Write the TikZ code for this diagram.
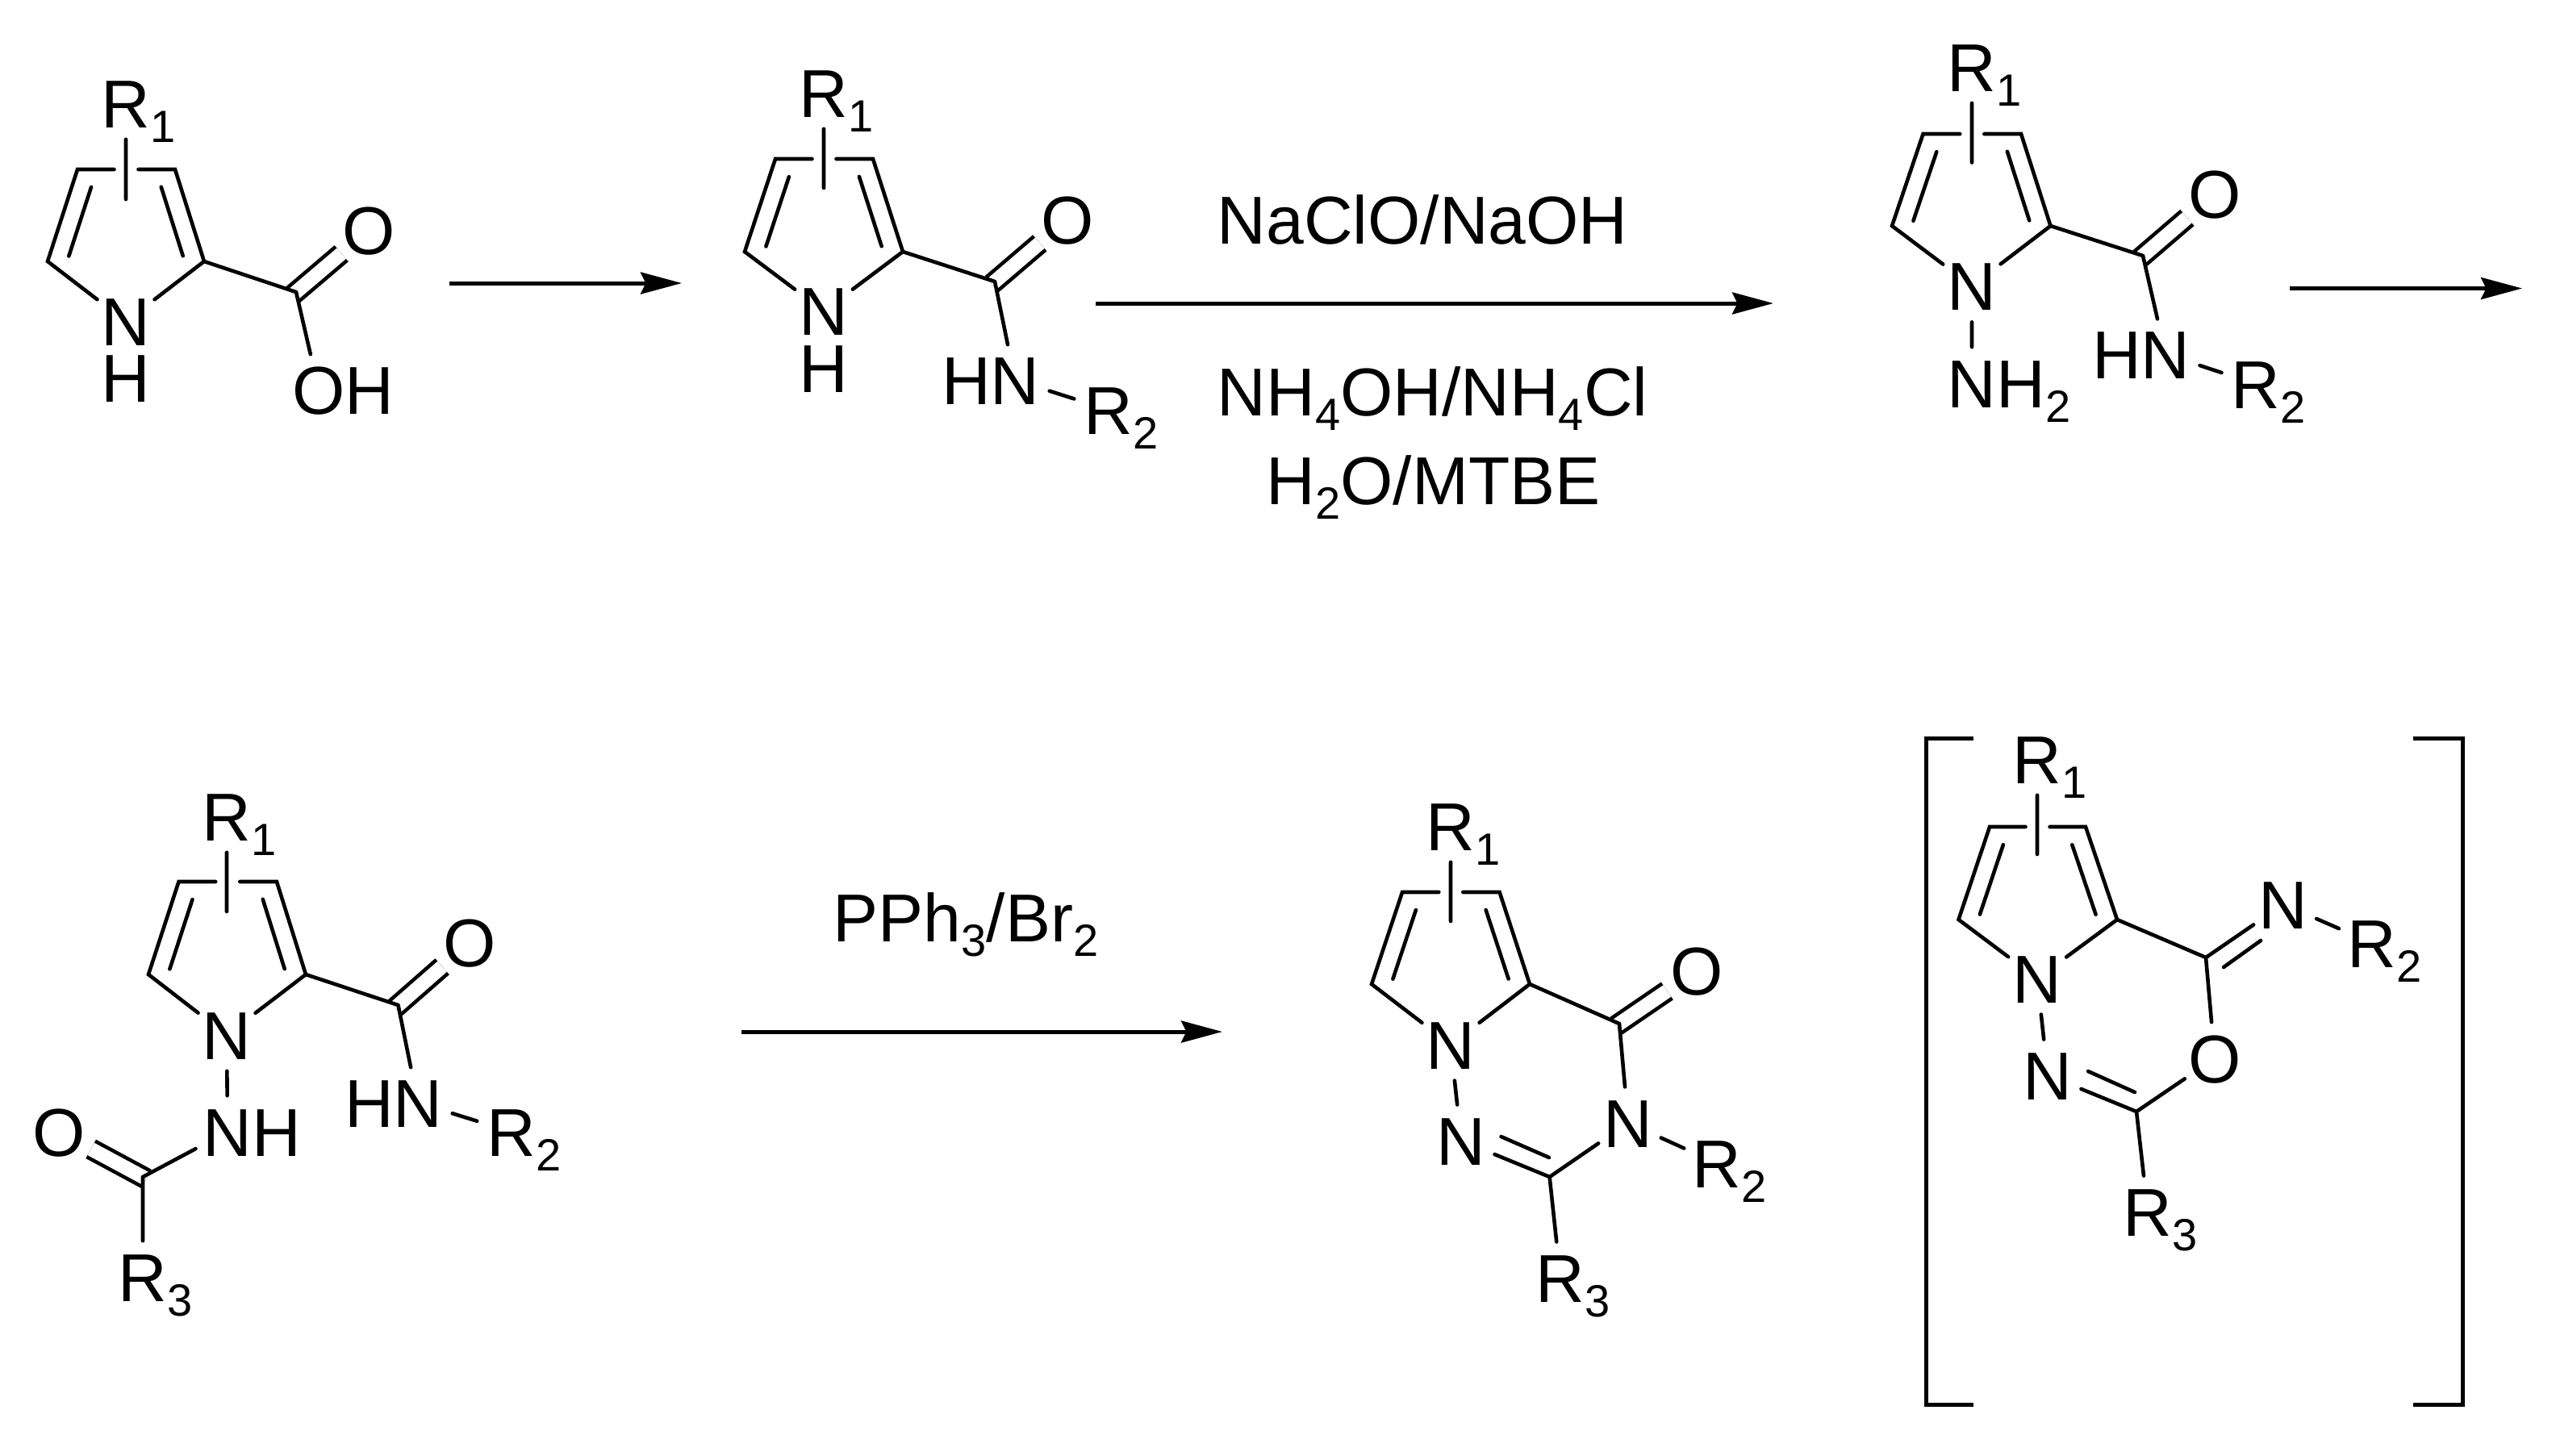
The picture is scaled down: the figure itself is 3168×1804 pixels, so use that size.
\documentclass[tikz,border=0pt]{standalone}
\usepackage{fontspec}
\usetikzlibrary{calc,arrows.meta}
\setmainfont{Liberation Sans}
\tikzstyle{atom}=[circle, inner sep=0pt, minimum size=22pt, text height=15pt, text depth=0pt]
\tikzstyle{reagent}=[anchor=base west, inner sep=0pt]
\tikzstyle{bond}=[line width=1.15pt, line cap=round]
\tikzstyle{dbond}=[line width=1.15pt, double, double distance=4.35pt, shorten <=-1.25pt]
\tikzstyle{rxn}=[line width=1.25pt, -{Stealth[length=12.75pt, width=6.75pt, inset=1.6pt]}]
\tikzstyle{brk}=[line width=1.25pt]
\newcommand{\dn}[1]{\smash{\raisebox{-.22em}{\fontsize{14}{14}\selectfont #1}}}
% five-membered ring, from the corners and atoms named with prefix #1
\newcommand{\ringbonds}[1]{
    \coordinate (#1t) at ($(#1tl)!.5!(#1tr)$);
    \draw[bond]
        (#1n) -- (#1bl) -- (#1tl) -- ($(#1t)+(-15,0)$)
        ($(#1t)+(15,0)$) -- (#1tr) -- (#1br) -- (#1n)
        (#1s) -- (#1r1)
        ($(#1bl)!.12!(#1tl)!5.75pt!-90:(#1tl)$) -- ($(#1bl)!.87!(#1tl)!5.75pt!-90:(#1tl)$)
        ($(#1br)!.12!(#1tr)!5.75pt!90:(#1tr)$) -- ($(#1br)!.87!(#1tr)!5.75pt!90:(#1tr)$)
    ;
}
\begin{document}
\begin{tikzpicture}[x=.25pt, y=-.25pt, font=\fontsize{21}{25}\selectfont]
    \useasboundingbox (0,0) rectangle (3168,1804);

    % acid
    \coordinate (atl) at (96,210);
    \coordinate (atr) at (217,210);
    \coordinate (abr) at (253,324);
    \coordinate (abl) at (59,324);
    \coordinate (as) at (156,247);
    \coordinate (ac) at (367,362);
    \node[atom] (ar1) at (156,128) {R\rlap{\dn{1}}};
    \node[atom] (an) at (156,398.5) {N};
    \node[atom] (ah) at (156,468) {H};
    \node[atom] (ao) at (457.5,285) {O};
    \node[atom] (aoh) at (395,483) {O\rlap{H}};
    \draw[dbond] (ac) -- (ao);
    \ringbonds{a}
    \draw[bond]
        (abr) -- (ac)
        (ac) -- (aoh)
    ;

    % amide
    \coordinate (btl) at (961,197);
    \coordinate (btr) at (1082,197);
    \coordinate (bbr) at (1119,312);
    \coordinate (bbl) at (923,312);
    \coordinate (bs) at (1021,233);
    \coordinate (bc) at (1233,349);
    \node[atom] (br1) at (1021,115) {R\rlap{\dn{1}}};
    \node[atom] (bn) at (1021,385.5) {N};
    \node[atom] (bh) at (1021,456) {H};
    \node[atom] (bo) at (1323,272) {O};
    \node[atom] (bhn) at (1258,471) {\llap{H}N};
    \node[atom] (br2) at (1374,508) {R\rlap{\dn{2}}};
    \draw[dbond] (bc) -- (bo);
    \ringbonds{b}
    \draw[bond]
        (bbr) -- (bc)
        (bc) -- (bhn)
        (bhn) -- (br2)
    ;

    % N-amino amide
    \coordinate (ctl) at (2383.5,166);
    \coordinate (ctr) at (2505,166);
    \coordinate (cbr) at (2541.5,280);
    \coordinate (cbl) at (2345,280);
    \coordinate (cs) at (2444,201.5);
    \coordinate (cc) at (2656,317);
    \node[atom] (cr1) at (2444,83) {R\rlap{\dn{1}}};
    \node[atom] (cn) at (2444,354.5) {N};
    \node[atom] (cnh) at (2444,475) {N\rlap{H\dn{2}}};
    \node[atom] (co) at (2745,240.5) {O};
    \node[atom] (chn) at (2684,439) {\llap{H}N};
    \node[atom] (cr2) at (2796,476) {R\rlap{\dn{2}}};
    \draw[dbond] (cc) -- (co);
    \ringbonds{c}
    \draw[bond]
        (cbr) -- (cc)
        (cn) -- (cnh)
        (cc) -- (chn)
        (chn) -- (cr2)
    ;

    % diacyl hydrazine
    \coordinate (dtl) at (221.5,1093);
    \coordinate (dtr) at (343,1093);
    \coordinate (dbr) at (379,1208);
    \coordinate (dbl) at (184,1208);
    \coordinate (ds) at (281,1130);
    \coordinate (dc) at (493.5,1246);
    \coordinate (dc3) at (177,1459);
    \node[atom] (dr1) at (281,1012) {R\rlap{\dn{1}}};
    \node[atom] (dn) at (281,1283) {N};
    \node[atom] (dnh) at (282,1403) {N\rlap{H}};
    \node[atom] (do) at (582,1168.5) {O};
    \node[atom] (dhn) at (518,1367) {\llap{H}N};
    \node[atom] (dr2) at (634,1403) {R\rlap{\dn{2}}};
    \node[atom] (do3) at (73,1403) {O};
    \node[atom] (dr3) at (177,1583) {R\rlap{\dn{3}}};
    \draw[dbond] (dc) -- (do);
    \draw[dbond] (dc3) -- (do3);
    \ringbonds{d}
    \draw[bond]
        (dbr) -- (dc)
        (dn) -- (dnh)
        (dc) -- (dhn)
        (dhn) -- (dr2)
        (dnh) -- (dc3)
        (dc3) -- (dr3)
    ;

    % triazinone
    \coordinate (etl) at (1738,1106);
    \coordinate (etr) at (1858.6,1106);
    \coordinate (ebr) at (1896,1220);
    \coordinate (ebl) at (1700,1220);
    \coordinate (es) at (1798,1142);
    \coordinate (ec) at (1920.6,1459);
    \coordinate (ec4) at (2007,1269);
    \coordinate (ei1) at (1860.5,1409);
    \coordinate (ei2) at (1920,1435);
    \node[atom] (er1) at (1798,1024) {R\rlap{\dn{1}}};
    \node[atom] (en) at (1798,1295) {N};
    \node[atom] (en2) at (1811,1414) {N};
    \node[atom] (en3) at (2018,1392) {N};
    \node[atom] (eo) at (2103.5,1203) {O};
    \node[atom] (er2) at (2128,1442) {R\rlap{\dn{2}}};
    \node[atom] (er3) at (1934,1584) {R\rlap{\dn{3}}};
    \draw[dbond] (ec4) -- (eo);
    \ringbonds{e}
    \draw[bond]
        (ebr) -- (ec4)
        (en) -- (en2)
        (en2) -- (ec)
        (ei1) -- (ei2)
        (ec) -- (en3)
        (ec4) -- (en3)
        (en3) -- (er2)
        (ec) -- (er3)
    ;

    % oxadiazine in brackets
    \coordinate (ftl) at (2466,1025);
    \coordinate (ftr) at (2585,1025);
    \coordinate (fbr) at (2624,1140);
    \coordinate (fbl) at (2427.5,1140);
    \coordinate (fs) at (2525,1059);
    \coordinate (fc) at (2648,1378);
    \coordinate (fc4) at (2734,1187);
    \coordinate (fi1) at (2588,1328);
    \coordinate (fi2) at (2646,1354);
    \coordinate (fi3) at (2756,1199);
    \coordinate (fi4) at (2802,1166);
    \node[atom] (fr1) at (2525,941) {R\rlap{\dn{1}}};
    \node[atom] (fn) at (2525,1213) {N};
    \node[atom] (fn2) at (2538,1333) {N};
    \node[atom] (fo) at (2745,1312) {O};
    \node[atom] (fn3) at (2830,1121) {N};
    \node[atom] (fr2) at (2940,1169) {R\rlap{\dn{2}}};
    \node[atom] (fr3) at (2662,1502) {R\rlap{\dn{3}}};
    \ringbonds{f}
    \draw[bond]
        (fbr) -- (fc4)
        (fn) -- (fn2)
        (fn2) -- (fc)
        (fi1) -- (fi2)
        (fc) -- (fo)
        (fc4) -- (fo)
        (fc4) -- (fn3)
        (fi3) -- (fi4)
        (fn3) -- (fr2)
        (fc) -- (fr3)
    ;
    \coordinate (lt) at (2446,915);
    \coordinate (ltc) at (2387,915);
    \coordinate (lbc) at (2387,1741);
    \coordinate (lb) at (2446,1741);
    \coordinate (rt) at (2991,915);
    \coordinate (rtc) at (3052,915);
    \coordinate (rbc) at (3052,1741);
    \coordinate (rb) at (2991,1741);
    \draw[brk] (lt) -- (ltc) -- (lbc) -- (lb);
    \draw[brk] (rt) -- (rtc) -- (rbc) -- (rb);

    % arrows and reagents
    \coordinate (p0) at (557,351);
    \coordinate (q0) at (845,351);
    \coordinate (p1) at (1358,376);
    \coordinate (q1) at (2198,376);
    \coordinate (p2) at (2838,357.5);
    \coordinate (q2) at (3126,357.5);
    \coordinate (p3) at (919,1279);
    \coordinate (q3) at (1515,1279);
    \draw[rxn] (p0) -- (q0);
    \draw[rxn] (p1) -- (q1);
    \draw[rxn] (p2) -- (q2);
    \draw[rxn] (p3) -- (q3);
    \node[reagent] (naclo) at (1508,302) {NaClO/NaOH};
    \node[reagent] (nh4) at (1508,515) {NH\dn{4}OH/NH\dn{4}Cl};
    \node[reagent] (water) at (1569,625) {H\dn{2}O/MTBE};
    \node[reagent] (pph3) at (1032,1167) {PPh\dn{3}/Br\dn{2}};
\end{tikzpicture}
\end{document}
